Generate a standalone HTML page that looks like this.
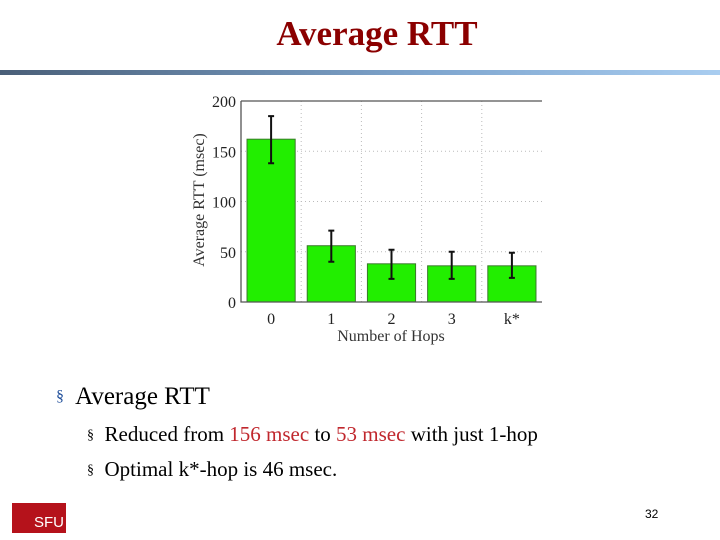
<!DOCTYPE html>
<html><head><meta charset="utf-8"><style>
body{margin:0;width:720px;height:540px;background:#fff;position:relative;overflow:hidden;font-family:"Liberation Serif",serif}
.abs{position:absolute;white-space:nowrap}
</style></head><body>
<div class="abs" style="left:0;width:754px;text-align:center;top:14px;font-size:35px;font-weight:bold;color:#8b0000">Average RTT</div>
<div class="abs" style="left:0;top:70px;width:720px;height:5px;background:linear-gradient(to right,#4a5f78,#7fa6cf 60%,#a9cdf0)"></div>
<svg class="abs" style="left:0;top:0" width="720" height="360" font-family="Liberation Serif, serif">
<g id="g"></g>
</svg>
<div class="abs" style="left:56px;top:383px;font-size:25px;color:#000"><span style="color:#1f4e9a;font-size:16px;position:relative;top:-3px">§</span>&nbsp; Average RTT</div>
<div class="abs" style="left:87px;top:422px;font-size:21px"><span style="font-size:14px;position:relative;top:-2px">§</span>&nbsp; Reduced from <span style="color:#c0272d">156 msec</span> to <span style="color:#c0272d">53 msec</span> with just 1-hop</div>
<div class="abs" style="left:87px;top:457px;font-size:21px"><span style="font-size:14px;position:relative;top:-2px">§</span>&nbsp; Optimal k*-hop is 46 msec.</div>
<div class="abs" style="left:12px;top:503px;width:54px;height:30px;background:#b5121b;color:#fff;font-family:'Liberation Sans',sans-serif;font-size:15px;line-height:40px;text-indent:22px;overflow:hidden">SFU</div>
<div class="abs" style="left:645px;top:507px;font-family:'Liberation Sans',sans-serif;font-size:12px">32</div>
<script>
const categories=["0","1","2","3","k*"];
const values=[162,56,38,36,36];
const errHigh=[185,71,52,50,49];
const errLow=[138,40,23,23,24];
const yTicks=[0,50,100,150,200];
const L=241,R=542,T=101,B=302,NS="http://www.w3.org/2000/svg";
const y=v=>B-(v/200)*(B-T);
const slot=(R-L)/categories.length;
const x=i=>L+slot*(i+0.5);
const g=document.getElementById('g');
function mk(t,a,txt){const e=document.createElementNS(NS,t);for(const k in a)e.setAttribute(k,a[k]);if(txt!==undefined)e.textContent=txt;g.appendChild(e);return e;}
yTicks.forEach(t=>{
 if(t>0&&t<200){const gl=mk('line',{x1:L,x2:R,y1:y(t),y2:y(t),stroke:'#bbb','stroke-dasharray':'1,3'});}
 const lb=mk('text',{x:L-5,y:y(t)+6,'text-anchor':'end','font-size':16,fill:'#222'},t);
 
 
});
categories.forEach((c,i)=>{
 if(i>0){const gl=mk('line',{x1:L+slot*i,x2:L+slot*i,y1:T,y2:B,stroke:'#bbb','stroke-dasharray':'1,3'});}
 const b=mk('rect',{x:x(i)-slot*0.4,y:y(values[i]),width:slot*0.8,height:B-y(values[i]),fill:'#22ee00',stroke:'#3a7a2a','stroke-width':1});
 
 
 const eb=mk('path',{d:`M${x(i)},${y(errHigh[i])}V${y(errLow[i])}M${x(i)-3},${y(errHigh[i])}h6M${x(i)-3},${y(errLow[i])}h6`,stroke:'#111','stroke-width':2,fill:'none'});
 
 
 const lb=mk('text',{x:x(i),y:B+22,'text-anchor':'middle','font-size':16,fill:'#222'},c);
 
 
});
const ax=mk('path',{d:`M${L},${T}H${R}M${L},${T}V${B}H${R}`,stroke:'#555','stroke-width':1.3,fill:'none'});


const xt=mk('text',{x:391,y:341,'text-anchor':'middle','font-size':16,fill:'#333'},'Number of Hops');


const yt=mk('text',{x:0,y:0,'text-anchor':'middle','font-size':16,fill:'#333',transform:'translate(204,200) rotate(-90)'},'Average RTT (msec)');


</script>
</body></html>
